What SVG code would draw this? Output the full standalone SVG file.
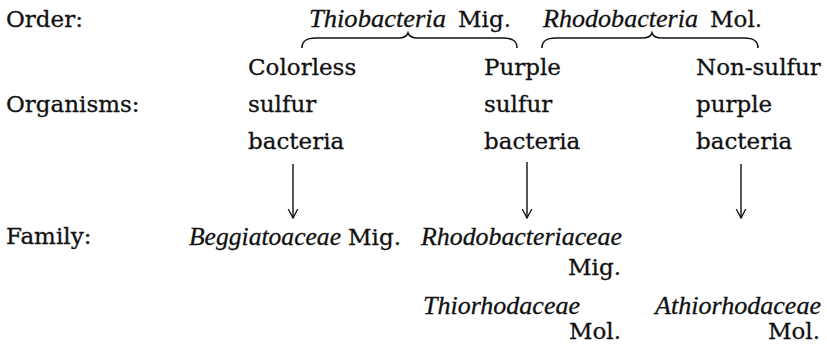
<svg xmlns="http://www.w3.org/2000/svg" width="827" height="347" viewBox="0 0 827 347">
<defs>
<style>
text{font-family:"DejaVu Serif","Liberation Serif",serif;font-size:23px;fill:#111;stroke:#111;stroke-width:0.3}
.it{font-family:"Liberation Serif","DejaVu Serif",serif;font-style:italic;font-size:26px;stroke-width:0.3}
.r{text-anchor:end}
.br{fill:none;stroke:#111;stroke-width:1.6}
.ar{fill:none;stroke:#111;stroke-width:1.4}
</style>
<marker id="head" viewBox="0 0 10 12" refX="9.5" refY="6" markerWidth="10" markerHeight="12" markerUnits="userSpaceOnUse" orient="auto">
<path d="M0.5,1.2 L9.5,6 L0.5,10.8" fill="none" stroke="#111" stroke-width="1.3"/>
</marker>
</defs>
<rect width="827" height="347" fill="#fff"/>
<g id="labels">
<text x="6" y="27">Order:</text>
<text x="6" y="112">Organisms:</text>
<text x="6" y="244">Family:</text>
</g>
<g id="order-thiobacteria">
<text class="it" x="309" y="27" textLength="137" lengthAdjust="spacingAndGlyphs">Thiobacteria</text>
<text x="458" y="27">Mig.</text>
<path class="br" d="M302,48 C302,41 306,38 316,38 L398,38 C404,38 407,36 408,33 C409,36 412,38 418,38 L503,38 C513,38 517,41 517,48"/>
</g>
<g id="order-rhodobacteria">
<text class="it" x="543" y="27" textLength="155" lengthAdjust="spacingAndGlyphs">Rhodobacteria</text>
<text x="710" y="27">Mol.</text>
<path class="br" d="M542,48 C542,41 546,38 556,38 L642,38 C648,38 651,36 652,33 C653,36 656,38 662,38 L744,38 C754,38 758,41 758,48"/>
</g>
<g id="colorless-sulfur">
<text x="248" y="75">Colorless</text>
<text x="248" y="112">sulfur</text>
<text x="248" y="149">bacteria</text>
</g>
<g id="purple-sulfur">
<text x="484" y="75">Purple</text>
<text x="484" y="112">sulfur</text>
<text x="484" y="149">bacteria</text>
</g>
<g id="nonsulfur-purple">
<text x="696" y="75">Non-sulfur</text>
<text x="696" y="112">purple</text>
<text x="696" y="149">bacteria</text>
</g>
<g id="connectors">
<path class="ar" d="M293,164 V218" marker-end="url(#head)"/>
<path class="ar" d="M527,162 V218" marker-end="url(#head)"/>
<path class="ar" d="M741,164 V218" marker-end="url(#head)"/>
</g>
<g id="beggiatoaceae">
<text class="it" x="189" y="245" textLength="152" lengthAdjust="spacingAndGlyphs">Beggiatoaceae</text>
<text x="348" y="245">Mig.</text>
</g>
<g id="rhodobacteriaceae">
<text class="it" x="421" y="245" textLength="201" lengthAdjust="spacingAndGlyphs">Rhodobacteriaceae</text>
<text class="r" x="621" y="275">Mig.</text>
</g>
<g id="thiorhodaceae">
<text class="it" x="423" y="314" textLength="157" lengthAdjust="spacingAndGlyphs">Thiorhodaceae</text>
<text class="r" x="621" y="339">Mol.</text>
</g>
<g id="athiorhodaceae">
<text class="it" x="655" y="314" textLength="166" lengthAdjust="spacingAndGlyphs">Athiorhodaceae</text>
<text class="r" x="820" y="339">Mol.</text>
</g>
</svg>
